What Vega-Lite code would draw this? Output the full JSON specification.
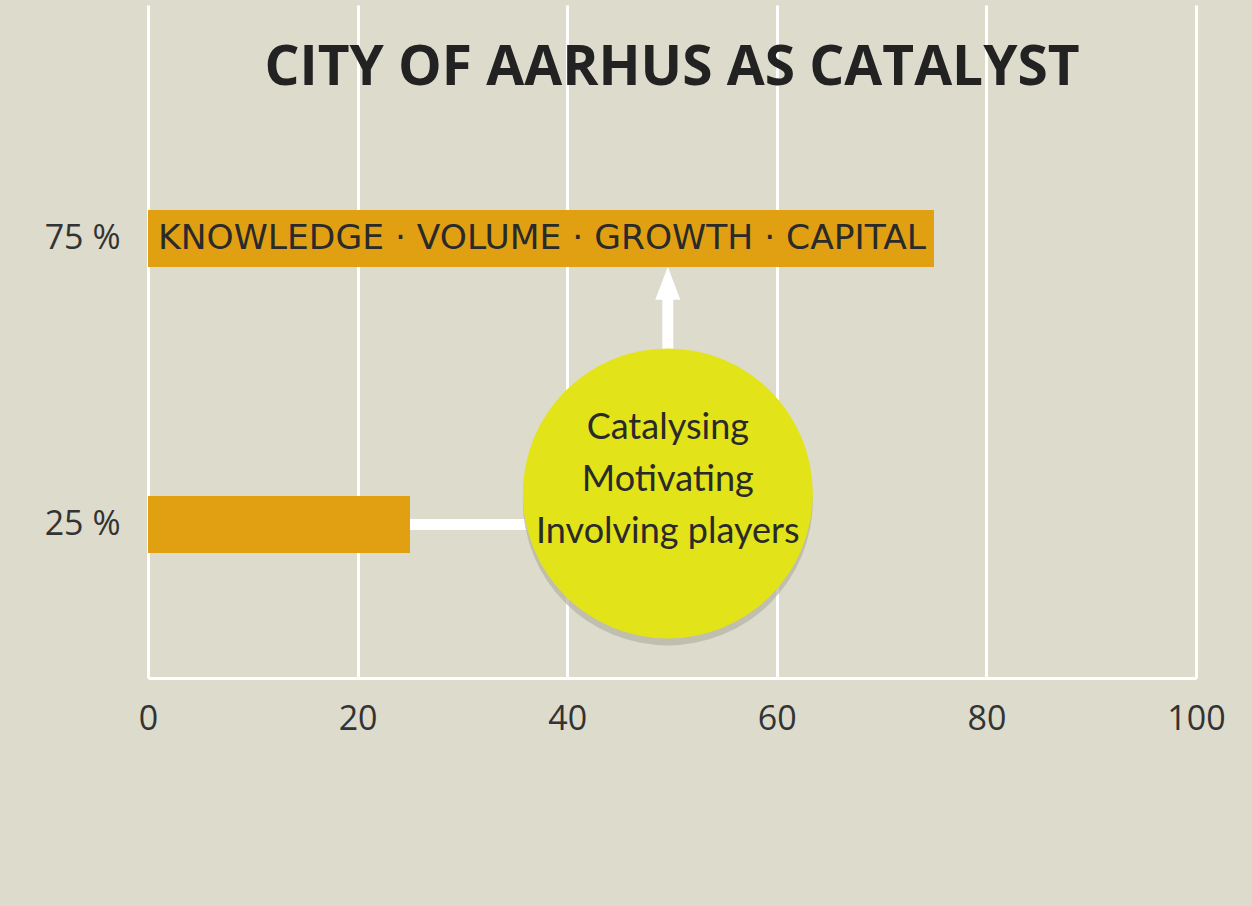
{
  "$schema": "https://vega.github.io/schema/vega-lite/v6.json",
  "width": 1048,
  "height": 673,
  "autosize": {"type": "none"},
  "padding": {"left": 148, "top": 5, "right": 56, "bottom": 228},
  "background": "#dddbcc",
  "config": {"view": {"stroke": null}, "font": "Open Sans"},
  "encoding": {
    "x": {
      "field": "value",
      "type": "quantitative",
      "scale": {"domain": [0, 100], "nice": false, "zero": false},
      "axis": {
        "values": [0, 20, 40, 60, 80, 100],
        "grid": true,
        "gridColor": "#ffffff",
        "gridWidth": 3,
        "gridOpacity": 1,
        "domainColor": "#ffffff",
        "domainWidth": 3,
        "ticks": false,
        "labelFlush": false,
        "labelFont": "Open Sans",
        "labelFontSize": 34,
        "labelColor": "#333333",
        "labelPadding": 24,
        "title": null
      }
    },
    "y": {
      "field": "level",
      "type": "quantitative",
      "scale": {"domain": [-1, 115], "nice": false, "zero": false},
      "axis": {
        "values": [25, 75],
        "labelExpr": "datum.value + ' %'",
        "grid": false,
        "domain": false,
        "ticks": false,
        "labelFont": "Open Sans",
        "labelFontSize": 34,
        "labelColor": "#333333",
        "labelPadding": 28,
        "title": null
      }
    }
  },
  "layer": [
    {
      "data": {"values": [{"value": 25, "end": 49.6, "level": 25}]},
      "mark": {"type": "rule", "color": "#ffffff", "strokeWidth": 11},
      "encoding": {"x2": {"field": "end"}}
    },
    {
      "data": {"values": [{"value": 49.6, "level": 55.6, "top": 64.5}]},
      "mark": {"type": "rule", "color": "#ffffff", "strokeWidth": 11},
      "encoding": {"y2": {"field": "top"}}
    },
    {
      "data": {"values": [{"value": 49.6, "level": 67.2}]},
      "mark": {"type": "point", "shape": "M0,-1L0.76,1L-0.76,1Z", "size": 1089, "filled": true, "color": "#ffffff", "opacity": 1, "strokeWidth": 0}
    },
    {
      "data": {"values": [{"value": 75, "level": 75}, {"value": 25, "level": 25}]},
      "mark": {"type": "bar", "orient": "horizontal", "size": 57, "color": "#e1a012"}
    },
    {
      "data": {"values": [{"value": 37.6, "level": 75, "label": "KNOWLEDGE · VOLUME · GROWTH · CAPITAL"}]},
      "mark": {"type": "text", "align": "center", "baseline": "middle", "font": "DejaVu Sans", "fontSize": 34.5, "color": "#2a2a2a"},
      "encoding": {"text": {"field": "label"}}
    },
    {
      "data": {"values": [{"value": 49.6, "level": 29.2}]},
      "mark": {"type": "point", "shape": "circle", "size": 84100, "filled": true, "color": "#b3b2a3", "opacity": 0.7, "strokeWidth": 0}
    },
    {
      "data": {"values": [{"value": 49.6, "level": 30.4}]},
      "mark": {"type": "point", "shape": "circle", "size": 84100, "filled": true, "color": "#e2e318", "opacity": 1, "strokeWidth": 0}
    },
    {
      "data": {"values": [{"value": 49.6, "level": 41.9, "label": "Catalysing\nMotivating\nInvolving players"}]},
      "mark": {"type": "text", "align": "center", "baseline": "middle", "lineBreak": "\n", "lineHeight": 52, "font": "Lato", "fontSize": 36, "color": "#2a2a2a"},
      "encoding": {"text": {"field": "label"}}
    },
    {
      "data": {"values": [{"value": 50, "level": 101.8, "label": "CITY OF AARHUS AS CATALYST"}]},
      "mark": {"type": "text", "align": "center", "baseline": "alphabetic", "font": "Open Sans", "fontSize": 55, "fontWeight": "bold", "color": "#222222"},
      "encoding": {"text": {"field": "label"}}
    }
  ]
}
